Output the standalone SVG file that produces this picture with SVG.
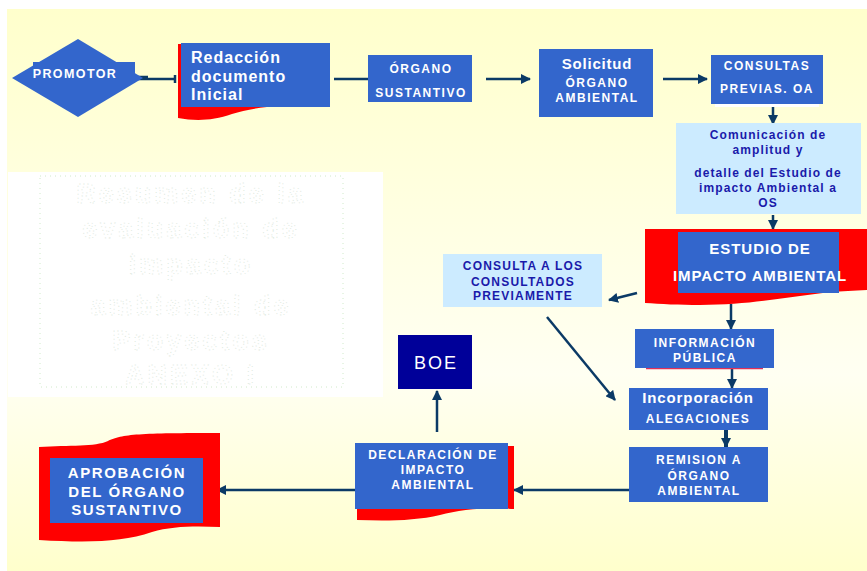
<svg xmlns="http://www.w3.org/2000/svg" width="867" height="571" viewBox="0 0 867 571">
<defs>
<linearGradient id="bg" x1="0" y1="0" x2="0" y2="1">
<stop offset="0" stop-color="#FFFFCC"/>
<stop offset="0.65" stop-color="#FFFFF2"/>
<stop offset="1" stop-color="#FFFFCC"/>
</linearGradient>
<marker id="ah" viewBox="0 0 10 10" refX="9" refY="5" markerWidth="4" markerHeight="4" orient="auto" markerUnits="strokeWidth">
<path d="M0,0 L10,5 L0,10 Z" fill="#0B3A66"/>
</marker>
<marker id="ahs" viewBox="0 0 10 10" refX="9" refY="5" markerWidth="2.6" markerHeight="2.6" orient="auto" markerUnits="strokeWidth">
<path d="M0,0 L10,5 L0,10 Z" fill="#0B3A66"/>
</marker>
<style>
.box{fill:#3366CC}
.red{fill:#FF0000}
.lb{fill:#CCEBFF}
.t{font-family:"Liberation Sans",Arial,sans-serif;font-weight:bold;fill:#FFFFFF;text-anchor:middle}
.s{font-size:12px;letter-spacing:1.5px}
.l{font-size:15px;letter-spacing:1px}
.d{font-family:"Liberation Sans",Arial,sans-serif;font-weight:bold;fill:#1A1AAA;text-anchor:middle;font-size:12px;letter-spacing:1.1px}
.c{stroke:#0B3A66;stroke-width:2.5;fill:none}
.g{font-family:"Liberation Sans",Arial,sans-serif;font-weight:bold;font-size:27px;letter-spacing:3px;fill:#FFFFFF;stroke:#DCE8DC;stroke-width:0.8;stroke-dasharray:1 3;text-anchor:middle}
</style>
</defs>
<rect x="0" y="0" width="867" height="571" fill="#FFFFFF"/>
<rect x="7" y="9" width="860" height="562" fill="url(#bg)"/>

<g id="ghost">
<rect x="8" y="172" width="375" height="225" fill="#FFFFFF"/>
<rect x="40" y="176" width="303" height="211" fill="none" stroke="#C4E4BC" stroke-width="0.8" stroke-dasharray="1 4"/>
<text class="g" x="191" y="203">Resumen de la</text>
<text class="g" x="191" y="238">evaluación de</text>
<text class="g" x="191" y="274">impacto</text>
<text class="g" x="191" y="315">ambiental de</text>
<text class="g" x="191" y="350">Proyectos</text>
<text class="g" x="191" y="384">ANEXO I</text>
</g>

<g id="connectors">
<line x1="135" y1="78" x2="148" y2="78" stroke="#0B3A66" stroke-width="4.5"/>
<line x1="148" y1="79" x2="175" y2="79" class="c"/>
<line x1="175" y1="75" x2="175" y2="83" class="c" stroke-width="2"/>
<line x1="334" y1="79" x2="368" y2="79" class="c"/>
<line x1="486" y1="79" x2="530" y2="79" class="c" marker-end="url(#ah)"/>
<line x1="663" y1="79" x2="707" y2="79" class="c" marker-end="url(#ah)"/>
<line x1="773" y1="106" x2="773" y2="124" class="c" marker-end="url(#ah)"/>
<line x1="773" y1="215" x2="773" y2="229" class="c" marker-end="url(#ah)"/>
<line x1="637" y1="293" x2="609" y2="300" class="c" marker-end="url(#ah)"/>
<line x1="731" y1="304" x2="731" y2="329" class="c" marker-end="url(#ah)"/>
<line x1="547" y1="317" x2="615" y2="400" class="c" marker-end="url(#ah)"/>
<line x1="732" y1="362" x2="732" y2="388" class="c" marker-end="url(#ah)"/>
<line x1="726" y1="430" x2="726" y2="447" stroke="#0B3A66" stroke-width="4" marker-end="url(#ahs)"/>
<line x1="636" y1="490" x2="514" y2="490" class="c" marker-end="url(#ah)"/>
<line x1="362" y1="490" x2="217" y2="490" class="c" marker-end="url(#ah)"/>
<line x1="437" y1="432" x2="437" y2="391" class="c" marker-end="url(#ah)"/>
</g>

<g id="promotor">
<polygon points="12,78 78,39 143,78 78,117" fill="#3366CC"/>
<rect x="33" y="62" width="102" height="21" fill="#3366CC"/>
<text class="t" x="75" y="78" style="font-size:12.5px;letter-spacing:1.4px">PROMOTOR</text>
</g>

<g id="redaccion">
<path class="red" d="M178,44 H184 V106 H282 C260,107 245,110 232,114 C212,121 195,121 178,118 Z"/>
<rect class="box" x="181" y="43" width="149" height="64"/>
<text class="t" x="191" y="63" style="font-size:16px;letter-spacing:1px;text-anchor:start">Redacción</text>
<text class="t" x="191" y="82" style="font-size:16px;letter-spacing:1px;text-anchor:start">documento</text>
<text class="t" x="191" y="100" style="font-size:16px;letter-spacing:1px;text-anchor:start">Inicial</text>
</g>

<g id="organo-sustantivo">
<rect class="box" x="368" y="55" width="104" height="47"/>
<text class="t s" x="421" y="72.5">ÓRGANO</text>
<text class="t s" x="421" y="96.5">SUSTANTIVO</text>
</g>

<g id="solicitud">
<rect class="box" x="539" y="49" width="114" height="68"/>
<text class="t" x="597" y="69" style="font-size:15px;letter-spacing:0.8px">Solicitud</text>
<text class="t s" x="597" y="87">ÓRGANO</text>
<text class="t s" x="597" y="101.5">AMBIENTAL</text>
</g>

<g id="consultas">
<rect x="715" y="104" width="104" height="3" fill="#FFFFFF"/>
<rect class="box" x="711" y="55" width="112" height="49"/>
<text class="t s" x="767" y="70">CONSULTAS</text>
<text class="t s" x="767" y="93">PREVIAS. OA</text>
</g>

<g id="comunicacion">
<rect class="lb" x="676" y="123" width="185" height="91"/>
<text class="d" x="768" y="139">Comunicación de</text>
<text class="d" x="768" y="154">amplitud y</text>
<text class="d" x="768" y="176.5">detalle del Estudio de</text>
<text class="d" x="768" y="191.5">impacto Ambiental a</text>
<text class="d" x="768" y="206.5">OS</text>
</g>

<g id="estudio">
<path class="red" d="M645,229 H867 V290 C840,291 820,293 800,296 C770,300 740,305 700,305 C680,305 660,304 645,303 Z"/>
<rect class="box" x="678" y="232" width="161" height="61"/>
<text class="t l" x="760" y="254">ESTUDIO DE</text>
<text class="t" x="760" y="281" style="font-size:15px;letter-spacing:0.9px">IMPACTO AMBIENTAL</text>
</g>

<g id="consulta-previamente">
<rect class="lb" x="443" y="254" width="159" height="53"/>
<text class="d" x="523" y="270" style="letter-spacing:1.2px">CONSULTA A LOS</text>
<text class="d" x="523" y="285.5" style="letter-spacing:1.2px">CONSULTADOS</text>
<text class="d" x="523" y="300" style="letter-spacing:1.2px">PREVIAMENTE</text>
</g>

<g id="boe">
<rect x="398" y="335" width="74" height="54" fill="#000099"/>
<text x="436" y="369" style="font-family:'Liberation Sans',Arial,sans-serif;font-size:18px;letter-spacing:2px;fill:#FFFFFF;text-anchor:middle">BOE</text>
</g>

<g id="informacion-publica">
<line x1="646" y1="368.5" x2="763" y2="368.5" stroke="#E0305A" stroke-width="1.5"/>
<rect class="box" x="635" y="329" width="139" height="39"/>
<text class="t s" x="705" y="346.5">INFORMACIÓN</text>
<text class="t s" x="705" y="361.5">PÚBLICA</text>
</g>

<g id="incorporacion">
<rect class="box" x="629" y="388" width="139" height="42"/>
<text class="t" x="698" y="402.5" style="font-size:15px;letter-spacing:0.9px">Incorporación</text>
<text class="t s" x="698" y="423">ALEGACIONES</text>
</g>

<g id="remision">
<rect class="box" x="629" y="447" width="139" height="55"/>
<text class="t s" x="699" y="464">REMISION A</text>
<text class="t s" x="699" y="479.5">ÓRGANO</text>
<text class="t s" x="699" y="495">AMBIENTAL</text>
</g>

<g id="declaracion">
<path class="red" d="M357,505 H508 V446 H514 V509 C485,507 460,510 440,515 C415,521 385,521 357,520 Z"/>
<rect class="box" x="355" y="443" width="153" height="66"/>
<text class="t s" x="433" y="458.5">DECLARACIÓN DE</text>
<text class="t s" x="433" y="473.5">IMPACTO</text>
<text class="t s" x="433" y="488.5">AMBIENTAL</text>
</g>

<g id="aprobacion">
<path class="red" d="M39,447 C70,445 95,447 108,441 C122,434 140,433 220,433 V527 C195,526 172,526 152,532 C122,542 90,543 39,540 Z"/>
<rect class="box" x="50" y="458" width="153" height="65"/>
<text class="t" x="127" y="477.5" style="font-size:15px;letter-spacing:1.6px">APROBACIÓN</text>
<text class="t" x="127" y="497" style="font-size:15px;letter-spacing:1.6px">DEL ÓRGANO</text>
<text class="t" x="127" y="514.5" style="font-size:15px;letter-spacing:1.6px">SUSTANTIVO</text>
</g>
</svg>
